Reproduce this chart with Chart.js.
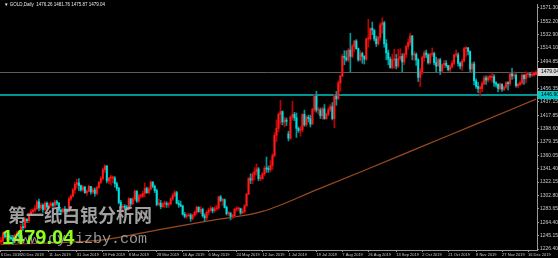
<!DOCTYPE html>
<html lang="zh-CN">
<head>
<meta charset="UTF-8">
<title>GOLD,Daily</title>
<style>
  html, body { margin: 0; padding: 0; background: #000; }
  canvas { display: block; }
</style>
</head>
<body>
<canvas id="goldChart" width="558" height="258"></canvas>
<script src="https://cdn.jsdelivr.net/npm/chart.js"></script>
<script>
// trading calendar: weekdays between these, minus broker holidays
const firstDay = '2018-12-06';
const lastDay = '2019-12-20';
const holidays = ['2018-12-25', '2019-01-01', '2019-04-19'];

// daily OHLC, one line per month (Dec 2018 .. Dec 2019)
const opens = [
  1237,1238,1248,1244,1244,1243,1241,1238,1246,1249,1244,1258,1257,1269,1267,1276,1280,
  1282,1284,1294,1285,1289,1283,1292,1287,1289,1291,1289,1294,1292,1282,1280,1283,1282,1280,1298,1302,1311,1319,
  1321,1317,1311,1315,1307,1309,1316,1308,1311,1306,1314,1322,1327,1340,1345,1324,1328,1328,1328,1320,
  1313,1293,1286,1287,1286,1285,1298,1291,1298,1309,1295,1302,1302,1306,1313,1307,1312,1322,1316,1310,1290,
  1292,1287,1291,1291,1290,1291,1298,1303,1307,1292,1290,1288,1276,1273,1274,1275,1270,1275,1279,1286,1280,
  1283,1274,1271,1279,1282,1284,1281,1284,1285,1301,1296,1297,1286,1277,1277,1273,1274,1283,1284,1284,1278,1280,1288,
  1305,1327,1325,1333,1337,1341,1327,1327,1334,1342,1341,1340,1346,1360,1389,1399,1419,1423,1408,1411,
  1391,1385,1415,1419,1414,1399,1396,1397,1419,1404,1415,1413,1405,1426,1445,1425,1425,1417,1427,1413,1419,1426,1430,
  1413,1445,1441,1464,1474,1502,1500,1497,1511,1502,1516,1524,1513,1497,1506,1502,1498,1527,1527,1542,1540,1527,
  1520,1529,1547,1550,1520,1507,1498,1486,1497,1498,1488,1499,1502,1494,1505,1516,1522,1531,1504,1505,1497,
  1472,1480,1500,1507,1504,1493,1505,1506,1493,1488,1497,1481,1490,1492,1489,1483,1487,1492,1504,1504,1492,1488,1495,
  1513,1514,1509,1484,1491,1467,1459,1456,1456,1463,1471,1468,1472,1472,1473,1464,1462,1456,1462,1455,1458,
  1464,1463,1477,1474,1475,1460,1462,1464,1475,1470,1476,1476,1475,1475,1476.26
];
const highs = [
  1243,1251,1250,1249,1248,1246,1243,1248,1252,1251,1262,1263,1271,1270,1278,1283,1284,
  1289,1296,1298,1292,1291,1294,1294,1292,1294,1293,1296,1296,1293,1284,1285,1287,1284,1301,1304,1313,1322,1326,
  1327,1318,1317,1316,1311,1318,1316,1314,1314,1316,1323,1330,1342,1347,1346,1329,1332,1331,1330,1322,
  1315,1296,1290,1290,1289,1300,1299,1300,1311,1310,1305,1305,1309,1321,1315,1315,1324,1323,1318,1312,1298,
  1296,1293,1295,1294,1293,1300,1306,1310,1309,1296,1295,1289,1279,1277,1277,1277,1276,1281,1288,1287,1287,
  1285,1277,1281,1285,1288,1286,1287,1289,1302,1303,1299,1298,1288,1280,1279,1276,1285,1287,1286,1285,1284,1290,1306,
  1329,1334,1336,1343,1348,1343,1332,1336,1345,1358,1345,1353,1363,1393,1411,1421,1439,1424,1415,1414,
  1395,1417,1438,1422,1421,1401,1402,1420,1425,1417,1418,1418,1428,1447,1452,1429,1428,1429,1433,1421,1429,1433,1436,
  1448,1452,1467,1475,1505,1510,1510,1513,1535,1519,1525,1526,1514,1510,1508,1503,1528,1555,1543,1551,1537,1531,
  1531,1550,1557,1552,1526,1511,1501,1505,1512,1505,1512,1513,1506,1507,1518,1527,1535,1532,1509,1507,1499,
  1485,1502,1510,1511,1506,1506,1514,1508,1501,1499,1499,1491,1496,1496,1489,1490,1496,1505,1511,1507,1494,1498,1515,
  1516,1515,1510,1493,1494,1470,1465,1460,1466,1474,1474,1474,1475,1478,1476,1466,1463,1464,1463,1460,1466,
  1466,1479,1485,1480,1477,1464,1467,1477,1476,1480,1479,1479,1480,1479,1481.76
];
const lows = [
  1233,1236,1242,1240,1240,1239,1233,1236,1244,1241,1242,1253,1256,1264,1264,1274,1278,
  1279,1283,1281,1282,1279,1282,1285,1284,1286,1287,1287,1289,1279,1276,1278,1279,1277,1279,1296,1301,1306,1313,
  1310,1309,1309,1306,1303,1308,1305,1306,1302,1304,1313,1320,1325,1336,1321,1320,1318,1321,1315,1310,
  1291,1283,1281,1283,1282,1282,1288,1290,1296,1293,1293,1299,1300,1301,1306,1305,1311,1314,1307,1288,1289,
  1284,1286,1286,1286,1286,1290,1296,1301,1291,1286,1287,1275,1271,1270,1273,1266,1268,1273,1276,1279,1277,
  1272,1266,1268,1275,1280,1278,1279,1282,1283,1294,1289,1285,1275,1274,1268,1270,1272,1280,1281,1276,1277,1278,1288,
  1304,1320,1320,1325,1332,1324,1324,1326,1331,1336,1336,1337,1340,1358,1380,1394,1405,1404,1401,1403,
  1381,1383,1411,1410,1386,1393,1388,1394,1402,1402,1408,1401,1405,1423,1422,1419,1413,1412,1412,1412,1417,1423,1411,
  1400,1432,1441,1452,1473,1490,1495,1494,1480,1500,1509,1512,1495,1495,1492,1491,1496,1515,1525,1533,1524,1516,
  1518,1525,1535,1515,1497,1490,1485,1484,1485,1484,1486,1496,1480,1490,1500,1512,1518,1497,1496,1489,1466,
  1459,1476,1495,1500,1491,1491,1502,1490,1480,1488,1476,1478,1486,1486,1481,1480,1485,1490,1501,1488,1484,1482,1494,
  1502,1504,1480,1478,1461,1456,1450,1445,1451,1461,1462,1465,1468,1465,1459,1458,1451,1454,1452,1453,1456,
  1454,1460,1469,1470,1458,1457,1460,1462,1462,1464,1472,1472,1473,1474,1475.87
];
const closes = [
  1238,1248,1244,1244,1243,1241,1238,1246,1249,1244,1258,1257,1269,1267,1276,1280,1282,
  1284,1294,1285,1289,1283,1292,1287,1289,1291,1289,1294,1292,1282,1280,1283,1282,1280,1298,1302,1311,1319,1321,
  1317,1311,1315,1307,1309,1316,1308,1311,1306,1314,1322,1327,1340,1345,1324,1328,1328,1328,1320,1313,
  1293,1286,1287,1286,1285,1298,1291,1298,1309,1295,1302,1302,1306,1313,1307,1312,1322,1316,1310,1290,1292,
  1287,1291,1291,1290,1291,1298,1303,1307,1292,1290,1288,1276,1273,1274,1275,1270,1275,1279,1286,1280,1283,
  1274,1271,1279,1282,1284,1281,1284,1285,1301,1296,1297,1286,1277,1277,1273,1274,1283,1284,1284,1278,1280,1288,1305,
  1327,1325,1333,1337,1341,1327,1327,1334,1342,1341,1340,1346,1360,1389,1399,1419,1423,1408,1411,1409,
  1385,1415,1419,1414,1399,1396,1397,1419,1404,1415,1413,1405,1426,1445,1425,1425,1417,1427,1413,1419,1426,1430,1413,
  1445,1441,1464,1474,1502,1500,1497,1511,1502,1516,1524,1513,1497,1506,1502,1498,1527,1527,1542,1540,1527,1520,
  1529,1547,1550,1520,1507,1498,1486,1497,1498,1488,1499,1502,1494,1505,1516,1522,1531,1504,1505,1497,1472,
  1480,1500,1507,1504,1493,1505,1506,1493,1488,1497,1481,1490,1492,1489,1483,1487,1492,1504,1504,1492,1488,1495,1513,
  1514,1509,1484,1491,1467,1459,1456,1456,1463,1471,1468,1472,1472,1473,1464,1462,1456,1462,1455,1458,1464,
  1463,1477,1474,1475,1460,1462,1464,1475,1470,1476,1476,1475,1475,1478,1479.04
];

// moving average (brown curve), read at a few dates
const maDates = ['6 Dec 2018', '11 Jan 2019', '19 Feb 2019', '28 Mar 2019', '6 May 2019', '12 Jun 2019',
  '19 Jul 2019', '26 Aug 2019', '2 Oct 2019', '8 Nov 2019', '20 Dec 2019'];
const maValues = [1233, 1235, 1239.5, 1253.5, 1266.7, 1280.3, 1311, 1341.2, 1373.2, 1405.1, 1440.8];

// horizontal lines
const bidPrice = 1479.04;
const supportLevel = 1446.90;

// axis labels
const tickDates = ['6 Dec 2018', '20 Dec 2018', '11 Jan 2019', '31 Jan 2019', '19 Feb 2019', '8 Mar 2019',
  '28 Mar 2019', '16 Apr 2019', '6 May 2019', '24 May 2019', '12 Jun 2019', '1 Jul 2019', '19 Jul 2019',
  '7 Aug 2019', '26 Aug 2019', '13 Sep 2019', '2 Oct 2019', '21 Oct 2019', '8 Nov 2019', '27 Nov 2019', '16 Dec 2019'];
const priceTicks = [1571.30, 1552.20, 1532.90, 1514.10, 1494.85, 1456.35, 1437.15, 1417.85, 1398.60,
  1379.35, 1360.05, 1341.40, 1322.15, 1302.80, 1283.65, 1264.40, 1245.15, 1226.40];

const MONTHS = ['Jan','Feb','Mar','Apr','May','Jun','Jul','Aug','Sep','Oct','Nov','Dec'];
const dates = [];
for (let d = new Date(firstDay + 'T00:00:00Z'); d <= new Date(lastDay + 'T00:00:00Z'); d.setUTCDate(d.getUTCDate() + 1)) {
  const wd = d.getUTCDay();
  if (wd === 0 || wd === 6 || holidays.includes(d.toISOString().slice(0, 10))) continue;
  dates.push(d.getUTCDate() + ' ' + MONTHS[d.getUTCMonth()] + ' ' + d.getUTCFullYear());
}
if (dates.length !== closes.length) console.log('length mismatch', dates.length, closes.length);

const UP = '#ff1a1a', DOWN = '#00e0e0';
const UP_WICK = '#c00000', DOWN_WICK = '#009a9a';
const isUp = closes.map((c, i) => c >= opens[i]);
const last = closes.length - 1;

const mtOverlay = {
  id: 'mtOverlay',
  beforeDatasetsDraw(chart) {
    const { ctx, chartArea: a, scales: { y } } = chart;
    ctx.save();
    let py = Math.round(y.getPixelForValue(bidPrice)) + 0.5;
    ctx.strokeStyle = '#5c5c5c';
    ctx.lineWidth = 1;
    ctx.beginPath(); ctx.moveTo(a.left, py); ctx.lineTo(a.right, py); ctx.stroke();
    py = Math.round(y.getPixelForValue(supportLevel));
    ctx.strokeStyle = '#00c4c4';
    ctx.lineWidth = 1.5;
    ctx.beginPath(); ctx.moveTo(a.left, py); ctx.lineTo(a.right, py); ctx.stroke();
    ctx.restore();
  },
  afterDraw(chart) {
    const { ctx, chartArea: a, scales: { y } } = chart;
    ctx.save();
    // price tags on the right axis
    ctx.font = '5px "Liberation Sans"';
    ctx.textBaseline = 'middle';
    let py = Math.round(y.getPixelForValue(bidPrice));
    ctx.fillStyle = '#d8d8d8';
    ctx.fillRect(a.right + 1, py - 4, 558 - a.right - 1, 8);
    ctx.fillStyle = '#000';
    ctx.fillText(bidPrice.toFixed(2), a.right + 4, py);
    py = Math.round(y.getPixelForValue(supportLevel));
    ctx.fillStyle = '#00c8c8';
    ctx.fillRect(a.right + 1, py - 4, 558 - a.right - 1, 8);
    ctx.fillStyle = '#000';
    ctx.fillText(supportLevel.toFixed(2), a.right + 4, py);

    // symbol line, top left
    ctx.fillStyle = '#e8e8e8';
    ctx.font = '4.5px "Liberation Sans"';
    ctx.fillText('\u25BC GOLD,Daily  ' + opens[last].toFixed(2) + ' ' + highs[last].toFixed(2) + ' ' +
      lows[last].toFixed(2) + ' ' + closes[last].toFixed(2), 4, 5);

    // watermark
    ctx.fillStyle = 'rgba(175,175,175,0.92)';
    ctx.font = 'bold 18px "Noto Sans CJK SC"';
    ctx.fillText('第一纸白银分析网', 8, 215);
    ctx.fillStyle = 'rgba(165,165,165,0.9)';
    ctx.font = '15px "Liberation Mono"';
    ctx.textBaseline = 'alphabetic';
    ctx.fillText('www.dyjizby.com', 12, 243);
    ctx.fillStyle = '#8cff1e';
    ctx.font = 'bold 20px "Liberation Sans"';
    ctx.fillText(closes[last].toFixed(2), 2, 244);
    ctx.restore();
  }
};

new Chart(document.getElementById('goldChart'), {
  type: 'bar',
  data: {
    labels: dates,
    datasets: [
      {
        type: 'line',
        data: maDates.map((d, k) => ({ x: d, y: maValues[k] })),
        borderColor: '#9a4a1e',
        borderWidth: 1.2,
        pointRadius: 0,
        cubicInterpolationMode: 'monotone',
        order: 3
      },
      {
        data: dates.map((d, i) => [lows[i], highs[i]]),
        backgroundColor: isUp.map(u => u ? UP_WICK : DOWN_WICK),
        barThickness: 1,
        grouped: false,
        order: 2
      },
      {
        data: dates.map((d, i) => [opens[i], closes[i]]),
        backgroundColor: isUp.map(u => u ? UP : DOWN),
        barThickness: 1.3,
        minBarLength: 1,
        grouped: false,
        order: 1
      }
    ]
  },
  options: {
    responsive: false,
    animation: false,
    devicePixelRatio: 1,
    layout: { padding: 0 },
    plugins: { legend: { display: false }, tooltip: { enabled: false } },
    scales: {
      x: {
        type: 'category',
        offset: true,
        afterBuildTicks: s => { s.ticks = tickDates.map(t => ({ value: dates.indexOf(t) })); },
        afterFit: s => { s.height = 8; },
        grid: { offset: false, drawOnChartArea: false, tickLength: 2, color: '#9a9a9a' },
        border: { color: '#9a9a9a' },
        ticks: {
          autoSkip: false, maxRotation: 0, align: 'start', padding: 0,
          color: '#c8c8c8', font: { family: 'Liberation Sans', size: 4 }
        }
      },
      y: {
        position: 'right',
        min: 1225.0,
        max: 1576.9,
        afterBuildTicks: s => { s.ticks = priceTicks.map(v => ({ value: v })); },
        afterFit: s => { s.width = 21; },
        grid: { drawOnChartArea: false, tickLength: 2, color: '#9a9a9a' },
        border: { color: '#9a9a9a' },
        ticks: {
          padding: 1, color: '#c8c8c8', font: { family: 'Liberation Sans', size: 5 },
          callback: v => Number(v).toFixed(2)
        }
      }
    }
  },
  plugins: [mtOverlay]
});
</script>
</body>
</html>
